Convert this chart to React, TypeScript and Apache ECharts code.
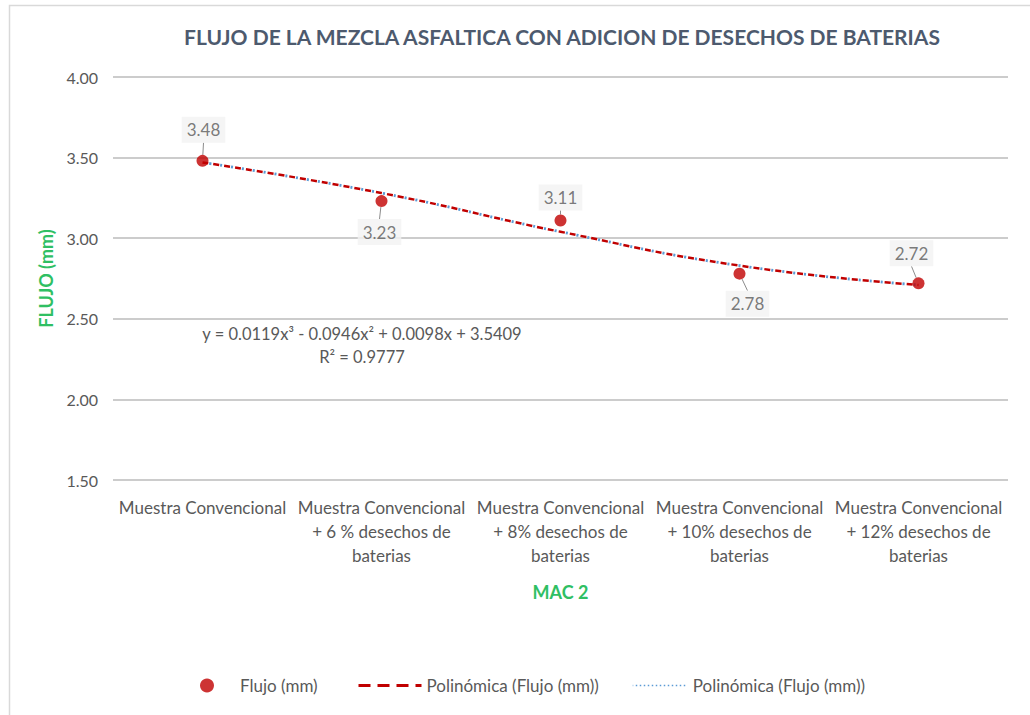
import React, { useEffect, useRef } from 'react';
import * as echarts from 'echarts';

const titleText = 'FLUJO DE LA MEZCLA ASFALTICA CON ADICION DE DESECHOS DE BATERIAS';
const categories = [
  'Muestra Convencional',
  'Muestra Convencional\n+ 6 % desechos de\nbaterias',
  'Muestra Convencional\n+ 8% desechos de\nbaterias',
  'Muestra Convencional\n+ 10% desechos de\nbaterias',
  'Muestra Convencional\n+ 12% desechos de\nbaterias',
];
const flujo = [3.48, 3.23, 3.11, 2.78, 2.72];
const trendValues = [3.47, 3.28, 3.04, 2.83, 2.71];
const yMin = 1.5;
const yMax = 4.0;
const yInterval = 0.5;
const equationLines = ['y = 0.0119x³ - 0.0946x² + 0.0098x + 3.5409', 'R² = 0.9777'];
const seriesNames = ['Flujo (mm)', 'Polinómica (Flujo (mm))', 'Polinómica (Flujo (mm)) '];

const labelShift = [
  [1, -31],
  [-2, 31],
  [0, -23],
  [8, 30],
  [-7, -30],
];

const FONT = 'Lato, "Open Sans", sans-serif';
const GREY = '#595959';
const GREEN = '#2fbf63';
const RED = '#c00000';
const BLUE = '#5b9bd5';

export default function App() {
  const ref = useRef<HTMLDivElement>(null);
  useEffect(() => {
    if (!ref.current) return;
    const chart = echarts.init(ref.current, undefined, { renderer: 'svg' });
    chart.setOption({
      animation: false,
      backgroundColor: '#ffffff',
      textStyle: { fontFamily: FONT },
      title: {
        text: titleText,
        left: 557,
        top: 21,
        textAlign: 'center',
        textStyle: { fontFamily: FONT, fontSize: 21, fontWeight: 'bold', color: '#4d5a6e' },
      },
      grid: { left: 113, right: 22, top: 77, bottom: 235 },
      xAxis: {
        type: 'category',
        data: categories,
        name: 'MAC 2',
        nameLocation: 'middle',
        nameGap: 103,
        nameTextStyle: { color: GREEN, fontWeight: 'bold', fontSize: 18, fontFamily: FONT },
        axisLine: { show: false },
        axisTick: { show: false },
        axisLabel: { interval: 0, color: GREY, fontSize: 17, lineHeight: 24, margin: 15, fontFamily: FONT },
      },
      yAxis: {
        type: 'value',
        min: yMin,
        max: yMax,
        interval: yInterval,
        name: 'FLUJO (mm)',
        nameLocation: 'middle',
        nameGap: 57,
        nameRotate: 90,
        nameTextStyle: { color: GREEN, fontWeight: 'bold', fontSize: 18, fontFamily: FONT },
        axisLine: { show: false },
        axisTick: { show: false },
        axisLabel: { color: GREY, fontSize: 16, margin: 15, formatter: (v: number) => v.toFixed(2), fontFamily: FONT },
        splitLine: { lineStyle: { color: '#cccccc', width: 2 } },
      },
      legend: [
        {
          data: [{ name: seriesNames[0], icon: 'circle' }],
          left: 200,
          top: 677,
          padding: 0,
          itemWidth: 14,
          itemHeight: 14,
          textStyle: { color: GREY, fontSize: 17, fontFamily: FONT, padding: [0, 0, 0, 21] },
        },
        {
          data: [seriesNames[1]],
          left: 357,
          top: 677,
          padding: 0,
          itemWidth: 63,
          itemHeight: 14,
          itemStyle: { opacity: 0 },
          lineStyle: { type: [12, 7], width: 3 },
          textStyle: { color: GREY, fontSize: 17, fontFamily: FONT },
        },
        {
          data: [seriesNames[2]],
          left: 632,
          top: 677,
          padding: 0,
          itemWidth: 55,
          itemHeight: 14,
          itemStyle: { opacity: 0 },
          lineStyle: { type: [1.5, 2.5], width: 1.5 },
          formatter: (n: string) => n.trim(),
          textStyle: { color: GREY, fontSize: 17, fontFamily: FONT },
        },
      ],
      graphic: [
        {
          type: 'rect',
          shape: { x: 9.5, y: 5.5, width: 1100, height: 800 },
          style: { fill: 'none', stroke: '#d9d9d9', lineWidth: 1.5 },
          silent: true,
        },
        {
          type: 'text',
          x: 362,
          y: 334,
          style: {
            text: equationLines[0],
            fill: GREY,
            font: `16.5px ${FONT}`,
            textAlign: 'center',
            textVerticalAlign: 'middle',
          },
        },
        {
          type: 'text',
          x: 362,
          y: 357,
          style: {
            text: equationLines[1],
            fill: GREY,
            font: `16.5px ${FONT}`,
            textAlign: 'center',
            textVerticalAlign: 'middle',
          },
        },
      ],
      series: [
        {
          name: seriesNames[1],
          type: 'line',
          data: trendValues,
          smooth: true,
          symbol: 'none',
          lineStyle: { color: RED, width: 2.5, type: [6, 5] },
          itemStyle: { color: RED },
          z: 2,
        },
        {
          name: seriesNames[2],
          type: 'line',
          data: trendValues,
          smooth: true,
          symbol: 'none',
          lineStyle: { color: BLUE, width: 2.8, type: [2, 9], dashOffset: -7.5 },
          itemStyle: { color: BLUE },
          z: 3,
        },
        {
          name: seriesNames[0],
          type: 'scatter',
          data: flujo,
          symbol: 'circle',
          symbolSize: 12,
          itemStyle: { color: RED },
          z: 5,
          label: {
            show: true,
            position: 'inside',
            formatter: (p: any) => Number(p.value).toFixed(2),
            color: GREY,
            fontSize: 17,
            fontFamily: FONT,
            backgroundColor: '#f2f2f2',
            padding: [5, 5, 4, 5],
          },
          labelLine: { show: true, lineStyle: { color: '#8c8c8c', width: 1 } },
          labelLayout: (p: any) => ({ dx: labelShift[p.dataIndex][0], dy: labelShift[p.dataIndex][1] }),
        },
      ],
    });
    return () => chart.dispose();
  }, []);
  return (
    <div
      ref={ref}
      style={{ position: 'fixed', left: 0, top: 0, width: 1030, height: 715, background: '#fff' }}
    />
  );
}
